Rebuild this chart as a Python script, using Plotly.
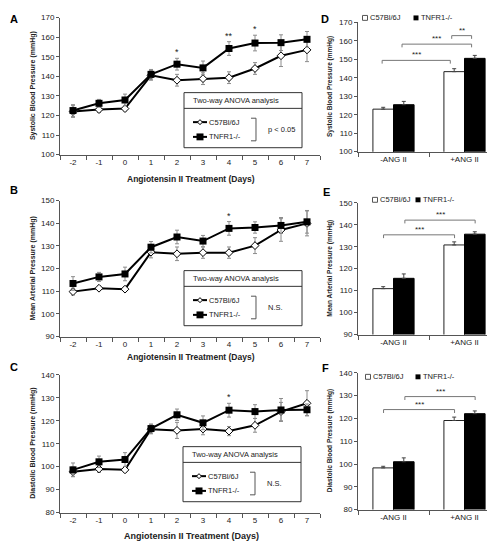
import plotly.graph_objects as go

W, H = 495, 541

# ---------------- data ----------------
days = [-2, -1, 0, 1, 2, 3, 4, 5, 6, 7]
day_labels = ["-2", "-1", "0", "1", "2", "3", "4", "5", "6", "7"]

sbp_c57 = [122.0, 123.0, 123.5, 140.5, 138.0, 138.8, 139.3, 144.0, 150.5, 153.5]
sbp_c57_err = [3.0, 1.5, 1.2, 2.5, 3.0, 3.0, 3.0, 3.0, 5.5, 6.0]
sbp_tnf = [122.5, 126.2, 127.9, 141.0, 146.2, 144.3, 154.2, 157.0, 157.2, 158.9]
sbp_tnf_err = [3.0, 2.0, 3.0, 2.5, 3.0, 3.5, 3.5, 4.0, 4.0, 4.0]

map_c57 = [109.8, 111.3, 110.9, 127.2, 126.5, 127.0, 127.0, 130.1, 137.0, 139.9]
map_c57_err = [1.5, 1.0, 1.0, 2.5, 3.0, 2.5, 2.5, 3.5, 5.0, 5.5]
map_tnf = [113.4, 116.3, 117.6, 129.4, 133.9, 132.1, 137.7, 138.1, 139.0, 140.6]
map_tnf_err = [3.0, 2.0, 3.0, 2.5, 3.0, 2.5, 3.0, 2.5, 3.5, 5.0]

dbp_c57 = [97.8, 99.0, 98.6, 116.3, 115.8, 116.4, 115.5, 118.0, 124.0, 127.6]
dbp_c57_err = [2.0, 1.5, 1.0, 2.0, 3.5, 2.5, 2.0, 3.0, 4.0, 5.5]
dbp_tnf = [98.6, 102.1, 103.1, 116.6, 122.6, 119.1, 124.6, 124.0, 124.7, 124.8]
dbp_tnf_err = [3.0, 2.5, 3.0, 2.0, 2.5, 3.0, 3.0, 3.0, 5.0, 2.5]

groups = [0, 1]
group_labels = ["-ANG II", "+ANG II"]
sbp_bar_c57 = [123.0, 143.3]
sbp_bar_c57_err = [1.0, 1.6]
sbp_bar_tnf = [125.4, 150.5]
sbp_bar_tnf_err = [1.8, 1.6]
map_bar_c57 = [110.9, 130.8]
map_bar_c57_err = [0.9, 1.4]
map_bar_tnf = [115.6, 135.7]
map_bar_tnf_err = [2.0, 1.1]
dbp_bar_c57 = [98.3, 119.1]
dbp_bar_c57_err = [0.7, 1.5]
dbp_bar_tnf = [101.0, 122.1]
dbp_bar_tnf_err = [1.7, 1.2]

sbp_sig = [(2, "*"), (4, "**"), (5, "*")]
map_sig = [(4, "*")]
dbp_sig = [(4, "*")]

# brackets: (x_left, x_right, y_level, label)
sbp_brackets = [(-0.16, 0.80, 149.4, "***"), (0.12, 1.10, 158.2, "***"), (0.82, 1.10, 162.8, "**")]
map_brackets = [(-0.14, 0.86, 135.4, "***"), (0.16, 1.15, 142.1, "***")]
dbp_brackets = [(-0.14, 0.86, 123.9, "***"), (0.16, 1.15, 129.6, "***")]

# ---------------- helpers ----------------
def px(x):
    return x / W

def py(y):
    return 1 - y / H

FONT = "Liberation Sans, Arial, sans-serif"
AXC = "#555555"
TXT = "#222222"

fig = go.Figure()
annotations = []
shapes = []

def ann(**kw):
    d = dict(showarrow=False, xanchor="center", yanchor="middle")
    d.update(kw)
    annotations.append(d)

def line_panel(idx, c57, c57e, tnf, tnfe, yr, ytop, ybot, sig, ytitle, title_y, title_size):
    xa = "x%d" % idx
    ya = "y%d" % idx
    fig.add_trace(go.Scatter(
        x=days, y=c57, mode="lines+markers", xaxis=xa, yaxis=ya,
        line=dict(color="black", width=2),
        marker=dict(symbol="diamond", size=6, color="white", line=dict(color="black", width=1)),
        error_y=dict(type="data", array=c57e, color="#8c8c8c", thickness=1, width=2),
        showlegend=False, cliponaxis=False))
    fig.add_trace(go.Scatter(
        x=days, y=tnf, mode="lines+markers", xaxis=xa, yaxis=ya,
        line=dict(color="black", width=2),
        marker=dict(symbol="square", size=7, color="black"),
        error_y=dict(type="data", array=tnfe, color="#8c8c8c", thickness=1, width=2),
        showlegend=False, cliponaxis=False))
    key = "" if idx == 1 else str(idx)
    fig.layout["xaxis" + key] = dict(
        domain=[px(52), px(312)], range=[-2.5, 7.5], anchor=ya,
        tickmode="array", tickvals=days, ticktext=day_labels, ticks="",
        minor=dict(tickmode="array", tickvals=[d - 0.5 for d in days] + [7.5],
                   ticks="outside", ticklen=4, tickcolor=AXC, tickwidth=1),
        showline=True, linecolor=AXC, linewidth=1, showgrid=False, zeroline=False,
        tickfont=dict(size=8, color=TXT, family=FONT), fixedrange=True)
    fig.layout["yaxis" + key] = dict(
        domain=[py(ybot), py(ytop)], range=yr, anchor=xa, dtick=10,
        ticks="outside", ticklen=3, tickcolor=AXC,
        showline=True, linecolor=AXC, linewidth=1, showgrid=False, zeroline=False,
        tickfont=dict(size=8, color=TXT, family=FONT), fixedrange=True)
    for d, lab in sig:
        i = days.index(d)
        ann(x=d, y=tnf[i] + tnfe[i], xref=xa, yref=ya, text=lab, yanchor="bottom", yshift=-1,
            font=dict(size=9, color=TXT, family=FONT))
    ann(x=px(25), y=py((ytop + ybot) / 2), xref="paper", yref="paper",
        text="<b>%s</b>" % ytitle, textangle=-90, font=dict(size=7, color=TXT, family=FONT))
    ann(x=px(183), y=py(title_y), xref="paper", yref="paper",
        text="<b>Angiotensin II Treatment (Days)</b>", font=dict(size=title_size, color=TXT, family=FONT))

def anova_box(left, top, stat_text):
    right = left + 118
    bottom = top + 56
    shapes.append(dict(type="rect", xref="paper", yref="paper", x0=px(left), x1=px(right),
                       y0=py(bottom), y1=py(top), line=dict(color="#333333", width=1),
                       fillcolor="white", layer="above"))
    shapes.append(dict(type="line", xref="paper", yref="paper", x0=px(left), x1=px(right),
                       y0=py(top + 16), y1=py(top + 16), line=dict(color="#333333", width=1), layer="above"))
    ann(x=px(left + 7), y=py(top + 8), xref="paper", yref="paper",
        text="Two-way ANOVA analysis", xanchor="left", font=dict(size=7.5, color=TXT, family=FONT))
    y1 = top + 30
    y2 = top + 45
    for yy in (y1, y2):
        shapes.append(dict(type="line", xref="paper", yref="paper", x0=px(left + 9), x1=px(left + 23),
                           y0=py(yy), y1=py(yy), line=dict(color="black", width=2), layer="above"))
    cx = left + 16
    shapes.append(dict(type="path", xref="paper", yref="paper",
                       path="M %f %f L %f %f L %f %f L %f %f Z" % (
                           px(cx - 2.5), py(y1), px(cx), py(y1 - 2.5), px(cx + 2.5), py(y1), px(cx), py(y1 + 2.5)),
                       line=dict(color="black", width=1), fillcolor="white", layer="above"))
    shapes.append(dict(type="rect", xref="paper", yref="paper", x0=px(cx - 3.5), x1=px(cx + 3.5),
                       y0=py(y2 + 3.5), y1=py(y2 - 3.5), line=dict(width=0), fillcolor="black", layer="above"))
    ann(x=px(left + 23), y=py(y1), xref="paper", yref="paper", text="C57Bl/6J",
        xanchor="left", font=dict(size=7.5, color=TXT, family=FONT))
    ann(x=px(left + 23), y=py(y2), xref="paper", yref="paper", text="TNFR1-/-",
        xanchor="left", font=dict(size=7.5, color=TXT, family=FONT))
    bx = left + 72
    shapes.append(dict(type="path", xref="paper", yref="paper",
                       path="M %f %f L %f %f L %f %f L %f %f" % (
                           px(bx - 5), py(y1 - 4), px(bx), py(y1 - 4), px(bx), py(y2 + 4), px(bx - 5), py(y2 + 4)),
                       line=dict(color="#555555", width=1), layer="above"))
    ann(x=px(bx + 10), y=py((y1 + y2) / 2), xref="paper", yref="paper", text=stat_text,
        xanchor="left", font=dict(size=7.5, color=TXT, family=FONT))

def bar_panel(idx, c57, c57e, tnf, tnfe, yr, ytop, ybot, brackets, ytitle, leg_x1, leg_x2, leg_y):
    xa = "x%d" % idx
    ya = "y%d" % idx
    fig.add_trace(go.Bar(x=groups, y=c57, xaxis=xa, yaxis=ya,
                         marker=dict(color="white", line=dict(color="#222222", width=1)),
                         error_y=dict(type="data", array=c57e, arrayminus=[0, 0], symmetric=False,
                                      color="#444444", thickness=1, width=2),
                         showlegend=False))
    fig.add_trace(go.Bar(x=groups, y=tnf, xaxis=xa, yaxis=ya,
                         marker=dict(color="black", line=dict(color="black", width=1)),
                         error_y=dict(type="data", array=tnfe, arrayminus=[0, 0], symmetric=False,
                                      color="#444444", thickness=1, width=2),
                         showlegend=False))
    key = str(idx)
    fig.layout["xaxis" + key] = dict(
        domain=[px(350), px(492)], range=[-0.5, 1.5], anchor=ya,
        tickmode="array", tickvals=groups, ticktext=group_labels, ticks="",
        minor=dict(tickmode="array", tickvals=[-0.5, 0.5, 1.5], ticks="outside", ticklen=4,
                   tickcolor=AXC, tickwidth=1),
        showline=True, linecolor=AXC, linewidth=1, showgrid=False, zeroline=False,
        tickfont=dict(size=8, color=TXT, family=FONT), fixedrange=True)
    fig.layout["yaxis" + key] = dict(
        domain=[py(ybot), py(ytop)], range=yr, anchor=xa, dtick=10,
        ticks="outside", ticklen=3, tickcolor=AXC,
        showline=True, linecolor=AXC, linewidth=1, showgrid=False, zeroline=False,
        tickfont=dict(size=8, color=TXT, family=FONT), fixedrange=True)
    span = yr[1] - yr[0]
    tick = span * 0.025
    for xl, xr, yl, lab in brackets:
        shapes.append(dict(type="path", xref=xa, yref=ya,
                           path="M %f %f L %f %f L %f %f L %f %f" % (xl, yl - tick, xl, yl, xr, yl, xr, yl - tick),
                           line=dict(color="#777777", width=1)))
        ann(x=(xl + xr) / 2, y=yl, xref=xa, yref=ya, text=lab, yanchor="bottom", yshift=-1,
            font=dict(size=8, color=TXT, family=FONT))
    ann(x=px(322), y=py((ytop + ybot) / 2), xref="paper", yref="paper",
        text="<b>%s</b>" % ytitle, textangle=-90, font=dict(size=6.5, color=TXT, family=FONT))
    # legend keys
    shapes.append(dict(type="rect", xref="paper", yref="paper", x0=px(leg_x1 - 2.5), x1=px(leg_x1 + 2.5),
                       y0=py(leg_y + 2.5), y1=py(leg_y - 2.5), line=dict(color="#555555", width=1),
                       fillcolor="white"))
    shapes.append(dict(type="rect", xref="paper", yref="paper", x0=px(leg_x2 - 2.5), x1=px(leg_x2 + 2.5),
                       y0=py(leg_y + 2.5), y1=py(leg_y - 2.5), line=dict(width=0), fillcolor="black"))
    ann(x=px(leg_x1 + 3), y=py(leg_y), xref="paper", yref="paper", text="C57Bl/6J",
        xanchor="left", font=dict(size=7.5, color=TXT, family=FONT))
    ann(x=px(leg_x2 + 3), y=py(leg_y), xref="paper", yref="paper", text="TNFR1-/-",
        xanchor="left", font=dict(size=7.5, color=TXT, family=FONT))

line_panel(1, sbp_c57, sbp_c57_err, sbp_tnf, sbp_tnf_err, [100, 170], 5.7, 145, sbp_sig,
           "Systolic Blood Pressure (mmHg)", 170, 8.5)
line_panel(2, map_c57, map_c57_err, map_tnf, map_tnf_err, [90, 150], 191.7, 330, map_sig,
           "Mean Arterial Pressure (mmHg)", 351, 8.5)
line_panel(3, dbp_c57, dbp_c57_err, dbp_tnf, dbp_tnf_err, [80, 140], 369, 509, dbp_sig,
           "Diastolic Blood Pressure (mmHg)", 533, 9)

anova_box(176, 82, "p < 0.05")
anova_box(176, 263, "N.S.")
anova_box(175, 442, "N.S.")

bar_panel(4, sbp_bar_c57, sbp_bar_c57_err, sbp_bar_tnf, sbp_bar_tnf_err, [100, 170], 10.5, 142,
          sbp_brackets, "Systolic Blood Pressure (mmHg)", 357, 408, 6)
bar_panel(5, map_bar_c57, map_bar_c57_err, map_bar_tnf, map_bar_tnf_err, [90, 150], 194, 328,
          map_brackets, "Mean Arterial Pressure (mmHg)", 367, 410, 191)
bar_panel(6, dbp_bar_c57, dbp_bar_c57_err, dbp_bar_tnf, dbp_bar_tnf_err, [80, 140], 367, 506,
          dbp_brackets, "Diastolic Blood Pressure (mmHg)", 360, 410, 371)

for letter, lx, ly in [("A", 6, 7), ("B", 6, 181), ("C", 6, 361), ("D", 317, 7), ("E", 318, 183), ("F", 317, 362)]:
    ann(x=px(lx), y=py(ly), xref="paper", yref="paper", text="<b>%s</b>" % letter,
        font=dict(size=11, color="black", family=FONT))

fig.update_layout(
    width=W, height=H, margin=dict(l=0, r=0, t=0, b=0),
    paper_bgcolor="white", plot_bgcolor="white",
    barmode="group", bargap=0.42, bargroupgap=0,
    annotations=annotations, shapes=shapes, showlegend=False,
    font=dict(family=FONT, color=TXT),
)

fig.write_html("out.html", config={"displayModeBar": False})
